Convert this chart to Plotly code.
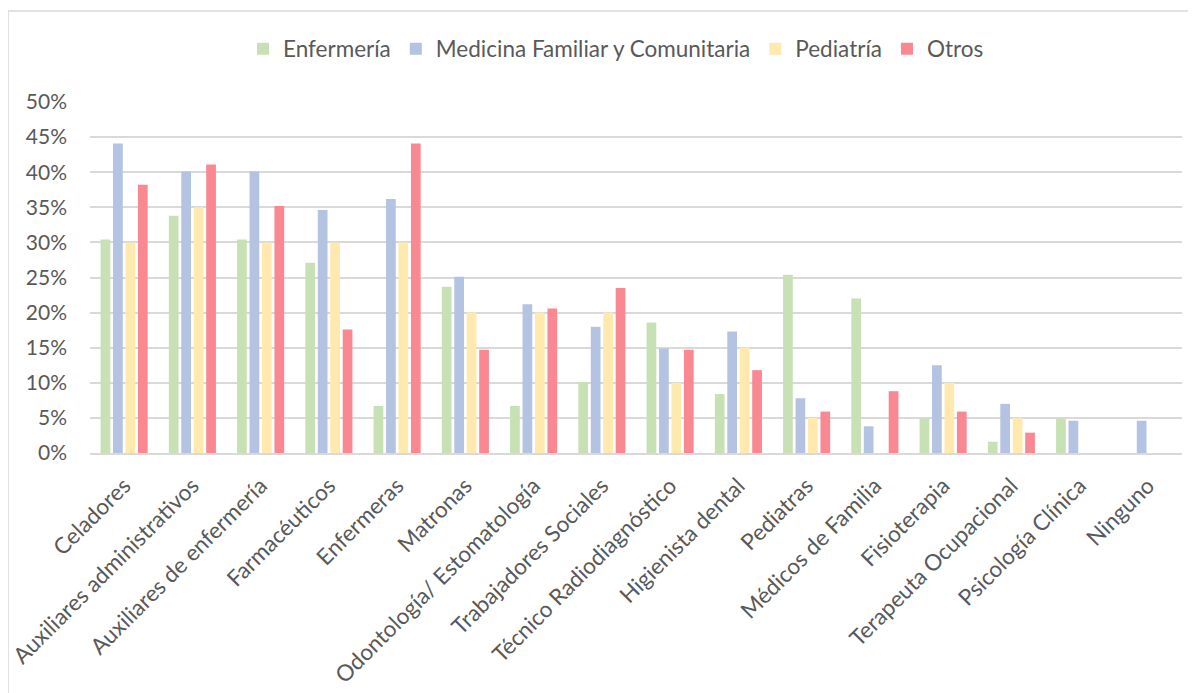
import plotly.graph_objects as go

categories = ["Celadores", "Auxiliares administrativos", "Auxiliares de enfermería",
              "Farmacéuticos", "Enfermeras", "Matronas", "Odontología/ Estomatología",
              "Trabajadores Sociales", "Técnico Radiodiagnóstico", "Higienista dental",
              "Pediatras", "Médicos de Familia", "Fisioterapia", "Terapeuta Ocupacional",
              "Psicología Clínica", "Ninguno"]

enfermeria = [0.304, 0.338, 0.304, 0.271, 0.067, 0.237, 0.067, 0.101, 0.186, 0.084,
              0.254, 0.220, 0.049, 0.016, 0.049, None]
medicina = [0.441, 0.401, 0.401, 0.346, 0.362, 0.251, 0.212, 0.180, 0.149, 0.173,
            0.078, 0.038, 0.125, 0.070, 0.046, 0.046]
pediatria = [0.300, 0.350, 0.300, 0.300, 0.300, 0.200, 0.200, 0.200, 0.100, 0.150,
             0.050, None, 0.100, 0.050, None, None]
otros = [0.382, 0.411, 0.352, 0.176, 0.441, 0.147, 0.206, 0.235, 0.147, 0.118,
         0.059, 0.088, 0.059, 0.029, None, None]

series_names = ["Enfermería", "Medicina Familiar y Comunitaria", "Pediatría", "Otros"]
series_colors = ["#C7E1B5", "#B4C3E1", "#FFE9AF", "#F98893"]

FONT = "Lato"
TXT = "#595959"

fig = go.Figure()
for name, vals, col in zip(series_names, [enfermeria, medicina, pediatria, otros], series_colors):
    fig.add_trace(go.Bar(x=categories, y=vals, name=name, marker_color=col,
                         marker_line_width=0))

# page body adds ~8px offset; compensate
OFF = 8
W, H = 1196, 693
pw, ph = 1092, 351
L, T = 90 - OFF, 102 - OFF
R = W - L - pw
B = H - T - ph

def px_x(p):
    return (p - OFF - L) / pw

def px_y(p):
    return 1 + (T + OFF - p) / ph

fig.update_layout(
    width=W, height=H,
    margin=dict(l=L, r=R, t=T, b=B, autoexpand=False),
    paper_bgcolor="white", plot_bgcolor="white",
    font=dict(family=FONT, color=TXT, size=21),
    barmode="group", bargap=0.27, bargroupgap=0.22,
    legend=dict(orientation="h", x=px_x(616), xanchor="center", y=px_y(49), yanchor="middle",
                font=dict(size=22.5, color=TXT), itemsizing="constant",
                traceorder="normal", bgcolor="rgba(0,0,0,0)"),
    xaxis=dict(tickangle=-45, showgrid=False, showline=True, linecolor="#D9D9D9",
               linewidth=1.5, ticks="", tickfont=dict(size=22.5, color=TXT),
               ticklabelstandoff=9),
    yaxis=dict(range=[0, 0.5], dtick=0.05, tickformat=".0%", showgrid=True,
               gridcolor="#D9D9D9", gridwidth=1.5, zeroline=False, showline=False,
               ticks="", tickfont=dict(size=21, color=TXT), ticklabelstandoff=22),
    shapes=[dict(type="rect", xref="paper", yref="paper",
                 x0=px_x(8), x1=px_x(1220), y0=px_y(720), y1=px_y(11),
                 line=dict(color="#D9D9D9", width=1.5), fillcolor="rgba(0,0,0,0)",
                 layer="below")],
)

fig.write_html("out.html")
